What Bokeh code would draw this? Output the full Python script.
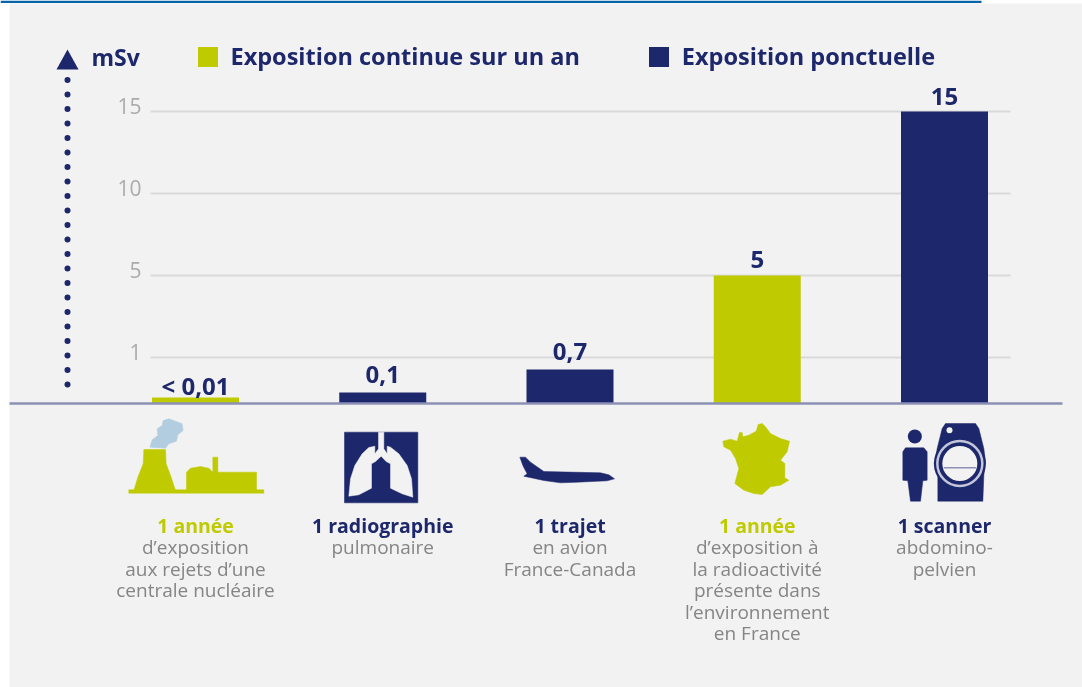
from bokeh.embed import file_html
from bokeh.resources import INLINE
from bokeh.plotting import figure
from bokeh.models import (ColumnDataSource, LinearAxis, FixedTicker, Range1d, Legend, LegendItem)
from bokeh.core.properties import value
import numpy as np

# ---------- data ----------
CATEGORIES = ["Centrale", "Radiographie", "Avion", "France", "Scanner"]
VALUES = [0.01, 0.1, 0.7, 5, 15]
VALUE_LABELS = ["< 0,01", "0,1", "0,7", "5", "15"]
SERIES = ["continue", "ponctuelle", "ponctuelle", "continue", "ponctuelle"]
SERIES_NAMES = {"continue": "Exposition continue sur un an", "ponctuelle": "Exposition ponctuelle"}
TICK_VALUES = [1, 5, 10, 15]
TICK_LABELS = ["1", "5", "10", "15"]
CAT_TITLES = ["1 année", "1 radiographie", "1 trajet", "1 année", "1 scanner"]
CAT_LINES = [
    ["d’exposition", "aux rejets d’une", "centrale nucléaire"],
    ["pulmonaire"],
    ["en avion", "France-Canada"],
    ["d’exposition à", "la radioactivité", "présente dans", "l’environnement", "en France"],
    ["abdomino-", "pelvien"],
]
# The chart's broken vertical scale: mSv -> height above the baseline
SCALE_VALUES = [0, 0.01, 0.1, 0.7, 1, 5, 10, 15]
SCALE_HEIGHTS = [0, 6, 11, 34, 46, 128, 210, 292]

# ---------- style ----------
NAVY = "#1d276b"
LIME = "#bfcb00"
BG = "#f2f2f2"
GRID = "#d9d9d9"
TICK_GREY = "#ababab"
DESC_GREY = "#858585"
AXIS = "#8b90b4"
FONT = "Open Sans"
W, H = 1082, 687
BASE = 403
X0, STEP = 195, 187.25
VALUE_GAPS = [-12, -18, -18, -16, -15]


def sy(v):
    return np.interp(v, SCALE_VALUES, SCALE_HEIGHTS)


def X(px):
    return (np.asarray(px, dtype=float) - X0) / STEP


def Y(py):
    return BASE - np.asarray(py, dtype=float)


p = figure(width=W, height=H, output_backend="svg", toolbar_location=None,
           x_range=Range1d(float(X(0)), float(X(W))), y_range=Range1d(float(Y(H)), float(Y(0))),
           x_axis_location=None, y_axis_location=None, min_border=0,
           background_fill_color="#ffffff", border_fill_color="#ffffff", outline_line_color=None)
p.grid.visible = False
p.styles = {"position": "absolute", "left": "0px", "top": "0px", "filter": "blur(0.6px)"}


def poly(points, ox, oy, color, k=3.0):
    pts = np.array(points, dtype=float)
    p.patch(X(ox + pts[:, 0] / k), Y(oy + pts[:, 1] / k), fill_color=color, line_color=color, line_width=0.5)


# panel and top rule
p.quad(left=[float(X(9))], right=[float(X(W))], bottom=[float(Y(H))], top=[float(Y(3))], fill_color=BG, line_color=None)
p.quad(left=[float(X(0))], right=[float(X(981))], bottom=[float(Y(2.4))], top=[float(Y(0))], fill_color="#0565a8", line_color=None)

# gridlines
ticks_y = [float(sy(t)) for t in TICK_VALUES]
p.segment(x0=[float(X(150))] * 4, x1=[float(X(1010))] * 4, y0=ticks_y, y1=ticks_y, line_color=GRID, line_width=2)

# tick labels, through an axis whose range is nudged so labels sit a little above the rules
NUDGE = 5.5
p.extra_y_ranges["tick_labels"] = Range1d(float(Y(H)) - NUDGE, float(Y(0)) - NUDGE)
ax = LinearAxis(y_range_name="tick_labels", fixed_location=float(X(147)),
                ticker=FixedTicker(ticks=ticks_y),
                major_label_overrides={tv: tl for tv, tl in zip(ticks_y, TICK_LABELS)},
                axis_line_color=None, major_tick_line_color=None, minor_tick_line_color=None,
                major_tick_in=0, major_tick_out=0, major_label_standoff=6,
                major_label_text_color=TICK_GREY, major_label_text_font=FONT, major_label_text_font_size="21px")
p.add_layout(ax, "left")

# bars
idx = list(range(len(CATEGORIES)))
renderers = {}
for key, col in (("continue", LIME), ("ponctuelle", NAVY)):
    sel = [i for i in idx if SERIES[i] == key]
    src = ColumnDataSource(dict(x=sel, top=[float(sy(VALUES[i])) for i in sel]))
    renderers[key] = p.vbar(x="x", top="top", bottom=0, width=87 / STEP, source=src, fill_color=col, line_color=None)

# baseline
p.segment(x0=[float(X(9))], x1=[float(X(1062))], y0=[0], y1=[0], line_color=AXIS, line_width=2.5)

# value labels
label_src = ColumnDataSource(dict(x=idx, y=[float(sy(v)) for v in VALUES], t=VALUE_LABELS, dy=VALUE_GAPS))
p.text(x="x", y="y", text="t", y_offset="dy", source=label_src, text_align="center", text_baseline="alphabetic",
       text_color=NAVY, text_font=value(FONT), text_font_style="bold", text_font_size="24px")

# legend
legend = Legend(items=[LegendItem(label=SERIES_NAMES["continue"], renderers=[renderers["continue"]]),
                       LegendItem(label=SERIES_NAMES["ponctuelle"], renderers=[renderers["ponctuelle"]])],
                orientation="horizontal", location=(194.5, H - 72), background_fill_alpha=0, border_line_color=None,
                padding=0, margin=0, spacing=66, glyph_width=25, glyph_height=25, label_standoff=11,
                label_text_font=FONT, label_text_font_size="23.5px", label_text_color=NAVY, label_text_font_style="bold",
                label_height=25)
p.add_layout(legend, "center")

# mSv arrow
p.patch(X([56, 67, 78]), Y([69, 49, 69]), fill_color=NAVY, line_color=None)
p.text(x=[float(X(91))], y=[float(Y(58))], text=["mSv"], text_align="left", text_baseline="middle", text_color=NAVY,
       text_font=value(FONT), text_font_style="bold", text_font_size="23px", y_offset=-2)
dots_y = Y(79.5 + 14.5 * np.arange(22))
p.scatter(x=[float(X(67))] * 22, y=dots_y.tolist(), marker="circle", size=6, fill_color=NAVY, line_color=None)

# category text
ROW0, ROW = 524.5, 21.4
for i, (title, lines) in enumerate(zip(CAT_TITLES, CAT_LINES)):
    col = LIME if SERIES[i] == "continue" else NAVY
    p.text(x=[i], y=[float(Y(ROW0))], text=[title], text_align="center", text_baseline="middle", text_color=col,
           text_font=value(FONT), text_font_style="bold", text_font_size="19.5px")
    p.text(x=[i] * len(lines), y=[float(Y(ROW0 + 1 + ROW * (n + 1))) for n in range(len(lines))], text=lines,
           text_align="center", text_baseline="middle", text_color=DESC_GREY, text_font=value(FONT), text_font_size="19px")

# icon: power plant
poly([(148, 140), (155, 118), (172, 105), (170, 85), (185, 75), (188, 60), (205, 55), (225, 62), (245, 70), (248, 90),
      (232, 103), (228, 122), (205, 130), (195, 143)], 100, 400, "#b3cde0")
poly([(85, 268), (490, 268), (490, 278), (85, 278)], 100, 400, LIME)
poly([(130, 147), (195, 147), (197, 190), (212, 230), (225, 270), (100, 270), (112, 230), (128, 190)], 100, 400, LIME)
poly([(258, 270), (258, 215), (270, 203), (300, 198), (325, 203), (337, 215), (337, 170), (352, 170), (352, 215),
      (468, 215), (468, 270)], 100, 400, LIME)
# icon: lungs
poly([(27, 20), (247, 20), (247, 232), (27, 232)], 335, 425, NAVY)
poly([(129, 20), (129, 70), (118, 85), (118, 62), (100, 66), (80, 85), (58, 120), (45, 160), (40, 212), (70, 208),
      (108, 188), (108, 115), (120, 108), (137, 92), (152, 108), (165, 115), (165, 188), (200, 205), (232, 215),
      (228, 160), (215, 120), (190, 85), (165, 65), (155, 62), (155, 85), (145, 70), (145, 20)], 335, 425, BG)
# icon: plane
poly([(28, 35), (45, 35), (60, 50), (100, 78), (270, 82), (295, 88), (312, 100), (290, 106), (200, 110), (150, 112),
      (100, 105), (40, 92), (50, 85), (38, 62)], 510, 445, NAVY)
# icon: France
poly([(22, 68), (45, 62), (65, 68), (72, 42), (80, 42), (82, 55), (100, 50), (122, 38), (128, 18), (140, 15), (150, 25),
      (165, 45), (195, 60), (222, 68), (215, 100), (195, 125), (208, 135), (208, 178), (220, 185), (195, 200), (165, 205),
      (140, 228), (115, 225), (85, 215), (58, 195), (70, 150), (60, 120), (45, 95), (25, 85)], 715, 418, LIME)
# icon: person and scanner
poly([(22, 100), (30, 88), (85, 88), (95, 100), (95, 185), (82, 187), (75, 248), (45, 248), (37, 187), (22, 185)], 895, 418, NAVY)
poly([(150, 15), (240, 15), (250, 30), (265, 90), (270, 130), (265, 170), (262, 248), (127, 248), (127, 175), (118, 135),
      (125, 90), (140, 30)], 895, 418, NAVY)
cx = float(X(895 + 193 / 3)); cy = float(Y(418 + 135 / 3))
p.scatter(x=[float(X(895 + 58 / 3))], y=[float(Y(418 + 54 / 3))], marker="circle", size=14, fill_color=NAVY, line_color=None)
p.scatter(x=[cx], y=[cy], marker="circle", size=52, fill_color=NAVY, line_color=None)
p.scatter(x=[cx], y=[cy], marker="circle", size=45, fill_color=None, line_color="#c3c6da", line_width=2.5)
p.scatter(x=[cx], y=[cy], marker="circle", size=35, fill_color=BG, line_color=None)
p.segment(x0=[float(X(895 + 145 / 3))], x1=[float(X(895 + 242 / 3))], y0=[float(Y(418 + 148 / 3))], y1=[float(Y(418 + 148 / 3))],
          line_color="#8b90b4", line_width=1.5)
p.scatter(x=[float(X(895 + 162 / 3))], y=[float(Y(418 + 35 / 3))], marker="circle", size=6, fill_color=BG, line_color=None)

open("out.html", "w").write(file_html(p, INLINE))
